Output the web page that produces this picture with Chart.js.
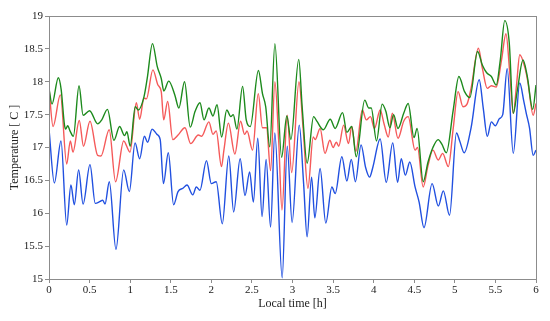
<!DOCTYPE html>
<html>
<head>
<meta charset="utf-8">
<script src="https://cdn.jsdelivr.net/npm/chart.js@4/dist/chart.umd.min.js"></script>
<style>
  html, body { margin: 0; padding: 0; background: #fff; }
  #wrap { width: 550px; height: 321px; }
</style>
</head>
<body>
<div id="wrap"><canvas id="grafico"></canvas></div>
<script>
// local time [h] and temperature [C]
const tempoVerde = [0, 0.037, 0.115, 0.15, 0.19, 0.205, 0.23, 0.26, 0.3, 0.37, 0.42, 0.5, 0.6, 0.65, 0.72, 0.8, 0.87, 0.93, 0.96, 1.0,
  1.063, 1.1, 1.17, 1.21, 1.275, 1.334, 1.383, 1.415, 1.475, 1.55, 1.6, 1.67, 1.74, 1.8, 1.86, 1.91, 1.97, 2.02, 2.07, 2.127,
  2.19, 2.24, 2.27, 2.315, 2.385, 2.43, 2.48, 2.58, 2.63, 2.67, 2.72, 2.783, 2.866, 2.93, 2.98, 3.077, 3.12, 3.18, 3.26, 3.3,
  3.38, 3.465, 3.525, 3.617, 3.67, 3.73, 3.785, 3.89, 3.94, 3.97, 4.035, 4.105, 4.15, 4.2, 4.245, 4.3, 4.37, 4.425, 4.497, 4.535,
  4.61, 4.67, 4.73, 4.795, 4.84, 4.895, 4.98, 5.05, 5.12, 5.185, 5.28, 5.34, 5.39, 5.45, 5.51, 5.56, 5.615, 5.67, 5.72, 5.77,
  5.84, 5.89, 5.96, 6.0];
const tempVerde = [17.9, 17.66, 18.06, 17.88, 17.35, 17.28, 17.33, 17.25, 17.17, 17.94, 17.49, 17.56, 17.36, 17.42, 17.58, 17.11, 17.32, 17.18, 17.24, 17.02,
  17.62, 17.57, 17.77, 18.05, 18.58, 18.23, 18.05, 17.86, 18.01, 17.8, 17.6, 18.0, 17.31, 17.55, 17.68, 17.42, 17.6, 17.48, 17.65, 17.16,
  17.57, 17.47, 17.5, 17.28, 17.93, 17.42, 17.32, 18.17, 17.82, 17.62, 17.01, 18.58, 16.85, 17.48, 17.12, 18.34, 17.6, 16.76, 17.47, 17.4,
  17.27, 17.43, 17.29, 17.53, 17.23, 17.32, 16.86, 17.72, 17.6, 17.6, 17.1, 17.66, 17.55, 17.3, 17.5, 17.29, 17.52, 17.67, 17.15, 17.29,
  16.48, 16.78, 17.0, 17.12, 17.05, 16.92, 17.57, 18.08, 17.85, 17.76, 18.46, 18.25, 18.14, 18.08, 17.95, 18.33, 18.93, 18.6, 17.52, 17.87,
  18.33, 18.1, 17.58, 17.95];

const tempoVermelho = [0, 0.05, 0.14, 0.218, 0.263, 0.295, 0.373, 0.425, 0.505, 0.6, 0.64, 0.742, 0.82, 0.92, 0.998, 1.076, 1.117, 1.17, 1.2, 1.28,
  1.342, 1.383, 1.413, 1.462, 1.525, 1.59, 1.675, 1.745, 1.84, 1.88, 1.97, 2.02, 2.06, 2.125, 2.155, 2.21, 2.29, 2.36, 2.41, 2.44,
  2.508, 2.578, 2.63, 2.68, 2.73, 2.783, 2.83, 2.87, 2.935, 2.99, 3.08, 3.13, 3.19, 3.255, 3.28, 3.34, 3.4, 3.46, 3.5, 3.54,
  3.57, 3.63, 3.69, 3.73, 3.78, 3.86, 3.91, 3.96, 4.01, 4.08, 4.13, 4.18, 4.23, 4.3, 4.37, 4.425, 4.51, 4.54, 4.61, 4.67,
  4.73, 4.795, 4.85, 4.92, 4.98, 5.04, 5.1, 5.15, 5.2, 5.29, 5.34, 5.4, 5.45, 5.51, 5.575, 5.63, 5.68, 5.72, 5.76, 5.8,
  5.86, 5.9, 5.965, 6.0];
const tempVermelho = [17.9, 17.32, 17.8, 16.75, 17.1, 16.93, 17.41, 17.02, 17.4, 16.88, 16.87, 17.27, 16.48, 17.1, 16.93, 17.68, 17.43, 17.75, 17.74, 18.18,
  17.95, 17.85, 17.42, 17.7, 17.12, 17.19, 17.3, 17.06, 17.19, 17.17, 17.39, 17.2, 17.25, 16.71, 16.96, 17.37, 16.9, 17.4, 17.2, 17.25,
  16.96, 17.82, 17.3, 17.3, 16.65, 18.0, 17.1, 16.05, 17.49, 16.62, 18.0, 17.3, 16.38, 17.16, 17.12, 17.29, 16.91, 17.11, 17.0, 17.08,
  17.02, 17.34, 17.06, 17.32, 16.94, 17.57, 17.42, 17.47, 17.29, 17.57, 17.35, 17.16, 17.52, 17.14, 17.4, 17.47, 16.96, 17.0, 16.4, 16.73,
  16.96, 16.81, 16.91, 16.71, 17.29, 17.85, 17.62, 17.66, 17.9, 18.51, 18.2, 17.9, 17.94, 17.92, 18.33, 18.73, 18.08, 17.52, 17.95, 18.41,
  18.23, 18.0, 17.49, 17.67];

const tempoAzul = [0, 0.066, 0.148, 0.218, 0.27, 0.312, 0.365, 0.42, 0.505, 0.57, 0.63, 0.66, 0.69, 0.743, 0.825, 0.92, 0.99, 1.06, 1.117, 1.175,
  1.215, 1.27, 1.33, 1.37, 1.41, 1.47, 1.535, 1.59, 1.65, 1.7, 1.772, 1.815, 1.86, 1.94, 2.0, 2.06, 2.135, 2.215, 2.275, 2.355,
  2.415, 2.472, 2.518, 2.572, 2.625, 2.675, 2.73, 2.782, 2.873, 2.935, 2.995, 3.083, 3.137, 3.18, 3.235, 3.275, 3.34, 3.41, 3.485, 3.526,
  3.608, 3.67, 3.724, 3.775, 3.845, 3.9, 3.95, 3.99, 4.08, 4.155, 4.235, 4.295, 4.34, 4.39, 4.445, 4.51, 4.56, 4.62, 4.72, 4.797,
  4.858, 4.935, 5.02, 5.06, 5.115, 5.2, 5.3, 5.35, 5.4, 5.45, 5.5, 5.55, 5.59, 5.645, 5.72, 5.8, 5.85, 5.88, 5.92, 5.965, 6.0];
const tempAzul = [17.28, 16.46, 17.1, 15.82, 16.43, 16.13, 16.66, 16.14, 16.74, 16.15, 16.18, 16.2, 16.14, 16.48, 15.45, 16.66, 16.33, 17.07, 16.83, 17.17,
  17.08, 17.28, 17.2, 17.12, 16.45, 16.92, 16.13, 16.33, 16.38, 16.43, 16.28, 16.4, 16.35, 16.8, 16.45, 16.48, 15.84, 16.87, 16.02, 16.83,
  16.27, 16.63, 16.17, 17.14, 15.95, 16.82, 15.79, 17.22, 15.02, 17.02, 15.86, 17.34, 16.45, 15.64, 16.55, 15.93, 16.68, 15.85, 16.4, 16.3,
  16.86, 16.49, 16.82, 16.48, 17.04, 16.7, 16.55, 16.7, 17.13, 16.47, 17.07, 16.47, 16.83, 16.58, 16.78, 16.4, 16.17, 15.78, 16.45, 16.11,
  16.34, 15.97, 17.22, 17.1, 16.92, 17.3, 18.03, 17.6, 17.17, 17.39, 17.33, 17.44, 17.5, 18.2, 16.91, 17.98, 17.7, 17.52, 17.3, 16.88, 16.96];

const ticksY = [15, 15.5, 16, 16.5, 17, 17.5, 18, 18.5, 19];
const ticksX = [0, 0.5, 1, 1.5, 2, 2.5, 3, 3.5, 4, 4.5, 5, 5.5, 6];

function pontos(tempos, valores) {
  let lista = [];
  for (let i = 0; i < tempos.length; i++) {
    lista.push({ x: tempos[i], y: valores[i] });
  }
  return lista;
}

// caixa cinza em volta da area do grafico
const moldura = {
  id: "moldura",
  afterDraw(chart) {
    const a = chart.chartArea;
    const ctx = chart.ctx;
    ctx.save();
    ctx.strokeStyle = "#8c8c8c";
    ctx.lineWidth = 1;
    ctx.strokeRect(a.left + 0.5, a.top + 0.5, a.right - a.left, a.bottom - a.top);
    ctx.restore();
  },
};

Chart.defaults.font.family = "'Liberation Serif', 'Times New Roman', serif";
Chart.defaults.color = "#222";

function linha(nome, tempos, valores, cor) {
  return {
    label: nome,
    data: pontos(tempos, valores),
    borderColor: cor,
    borderWidth: 1.4,
    pointRadius: 0,
    fill: false,
    cubicInterpolationMode: "monotone",
  };
}

new Chart(document.getElementById("grafico"), {
  type: "line",
  data: {
    datasets: [
      linha("Sensor 1", tempoVerde, tempVerde, "#1c8a1c"),
      linha("Sensor 2", tempoVermelho, tempVermelho, "#f55a5a"),
      linha("Sensor 3", tempoAzul, tempAzul, "#2150e0"),
    ],
  },
  plugins: [moldura],
  options: {
    responsive: true,
    maintainAspectRatio: false,
    animation: false,
    layout: { padding: { top: 16, right: 14, left: 0, bottom: 10 } },
    plugins: {
      legend: { display: false },
      tooltip: { enabled: false },
    },
    scales: {
      x: {
        type: "linear",
        min: 0,
        max: 6,
        afterBuildTicks: (s) => { s.ticks = ticksX.map((v) => ({ value: v })); },
        afterFit: (s) => { s.height = 32; },
        ticks: { font: { size: 11 }, padding: 1, maxRotation: 0, callback: (v) => String(v) },
        grid: { drawOnChartArea: false, tickLength: 4, color: "#8c8c8c" },
        border: { color: "#8c8c8c" },
        title: { display: true, text: "Local time [h]", font: { size: 12 }, padding: { top: 0, bottom: 0 } },
      },
      y: {
        min: 15,
        max: 19,
        afterBuildTicks: (s) => { s.ticks = ticksY.map((v) => ({ value: v })); },
        afterFit: (s) => { s.width = 49; },
        ticks: { font: { size: 11 }, padding: 2, callback: (v) => String(v) },
        grid: { drawOnChartArea: false, tickLength: 4, color: "#8c8c8c" },
        border: { color: "#8c8c8c" },
        title: { display: true, text: "Temperature [ C ]", font: { size: 12 }, padding: { top: 8, bottom: 0 } },
      },
    },
  },
});
</script>
</body>
</html>
